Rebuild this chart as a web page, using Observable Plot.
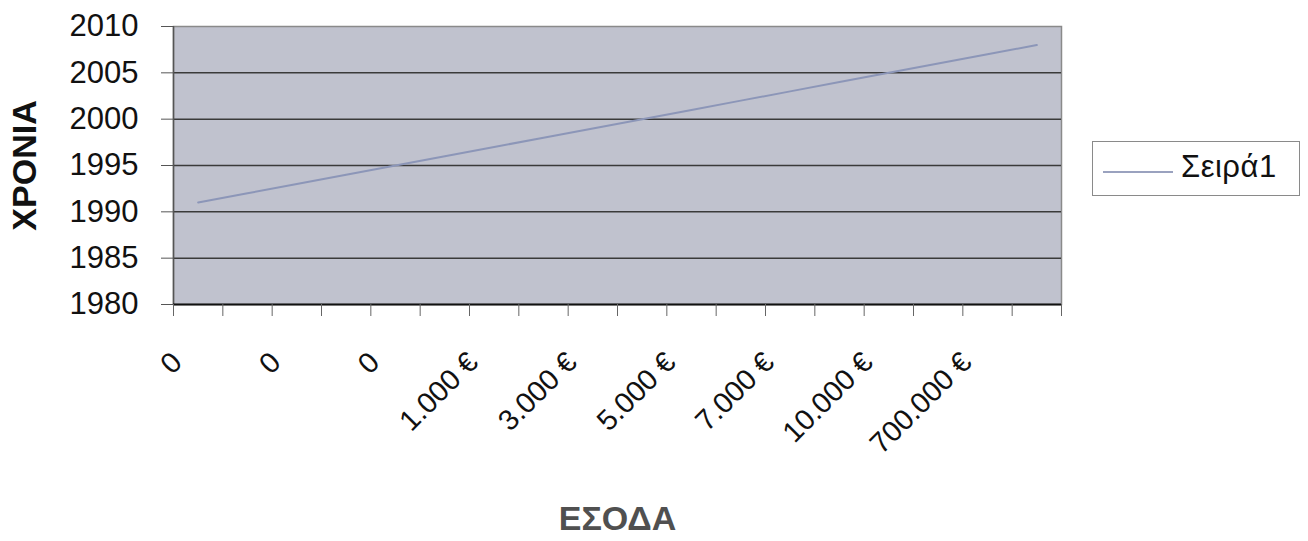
<!DOCTYPE html>
<html>
<head>
<meta charset="utf-8">
<script src="https://cdn.jsdelivr.net/npm/d3@7"></script>
<script src="https://cdn.jsdelivr.net/npm/@observablehq/plot@0.6"></script>
<style>
  body { margin: 0; background: #fff; font-family: "Liberation Sans", Arial, sans-serif; }
  #wrap { position: relative; width: 1308px; height: 541px; }
  #legend { position: absolute; left: 1092px; top: 141px; width: 208px; height: 55px;
            border: 1.5px solid #8a8a8a; box-sizing: border-box; background: #fff; }
  #legend .sw { position: absolute; left: 10px; top: 29px; width: 70px; height: 0;
                border-top: 2px solid #9aa2bf; }
  #legend .lb { position: absolute; left: 88px; top: 7px; font-size: 31px; color: #111;
                font-family: "Liberation Sans", Arial, sans-serif; line-height: 36px; letter-spacing: 0.5px; }
</style>
</head>
<body>
<div id="wrap">
  <div id="chart"></div>
  <div id="legend"><div class="sw"></div><div class="lb">Σειρά1</div></div>
</div>
<script>
// category positions (18 income categories along the x axis)
const categoryIndex = [1,2,3,4,5,6,7,8,9,10,11,12,13,14,15,16,17,18];
// series "Σειρά1": year for each category
const years = [1991,1992,1993,1994,1995,1996,1997,1998,1999,2000,2001,2002,2003,2004,2005,2006,2007,2008];
// labelled categories and their tick labels (every second category shown)
const labelIndex = [1,3,5,7,9,11,13,15,17];
const incomeLabels = ["0","0","0","1.000 €","3.000 €","5.000 €","7.000 €","10.000 €","700.000 €"];
// y ticks
const yTicks = [1980,1985,1990,1995,2000,2005,2010];
const gridTicks = [1985,1990,1995,2000,2005];

const series = categoryIndex.map((c, i) => ({c, year: years[i]}));
const labels = labelIndex.map((c, i) => ({c, label: incomeLabels[i]}));
const boundaries = categoryIndex.map(c => c - 0.5).concat([categoryIndex[categoryIndex.length - 1] + 0.5]);
const xDomain = [boundaries[0], boundaries[boundaries.length - 1]];

const chart = Plot.plot({
  width: 1308,
  height: 541,
  marginTop: 26,
  marginBottom: 237,
  marginLeft: 173,
  marginRight: 247,
  style: { fontFamily: "'Liberation Sans', Arial, sans-serif", background: "#fff", color: "#111" },
  x: { domain: xDomain, axis: null },
  y: { domain: [1980, 2010], axis: null },
  marks: [
    Plot.frame({ fill: "#c0c2ce", stroke: "#8a8a8a", strokeWidth: 1.5 }),
    Plot.gridY(gridTicks, { stroke: "#3a3a3a", strokeOpacity: 1, strokeWidth: 1.5 }),
    Plot.ruleX([xDomain[0]], { stroke: "#555", strokeWidth: 1.5 }),
    Plot.ruleY([1980], { stroke: "#111", strokeWidth: 2 }),
    Plot.axisY({ ticks: yTicks, tickSize: 12, tickPadding: 23, fontSize: 31, label: null,
      tickFormat: d => String(d), stroke: "#555", fill: "#111" }),
    Plot.axisX({ ticks: boundaries, tickSize: 12, tickFormat: () => "", label: null, stroke: "#666" }),
    Plot.line(series, { x: "c", y: "year", stroke: "#8c96b8", strokeWidth: 2 }),
    Plot.text(labels, { x: "c", text: "label", frameAnchor: "bottom", dx: -21, dy: 53,
      rotate: -45, textAnchor: "end", lineAnchor: "middle", fontSize: 29, fill: "#111" }),
    Plot.text(["ΕΣΟΔΑ"], { text: d => d, frameAnchor: "bottom", dy: 215, fontSize: 34,
      textAnchor: "middle", lineAnchor: "middle", fontWeight: "bold", fill: "#505050" }),
    Plot.text(["ΧΡΟΝΙΑ"], { text: d => d, frameAnchor: "left", dx: -148, rotate: -90,
      textAnchor: "middle", lineAnchor: "middle", fontSize: 34, fontWeight: "bold", fill: "#111" })
  ]
});
document.getElementById("chart").appendChild(chart);
</script>
</body>
</html>
